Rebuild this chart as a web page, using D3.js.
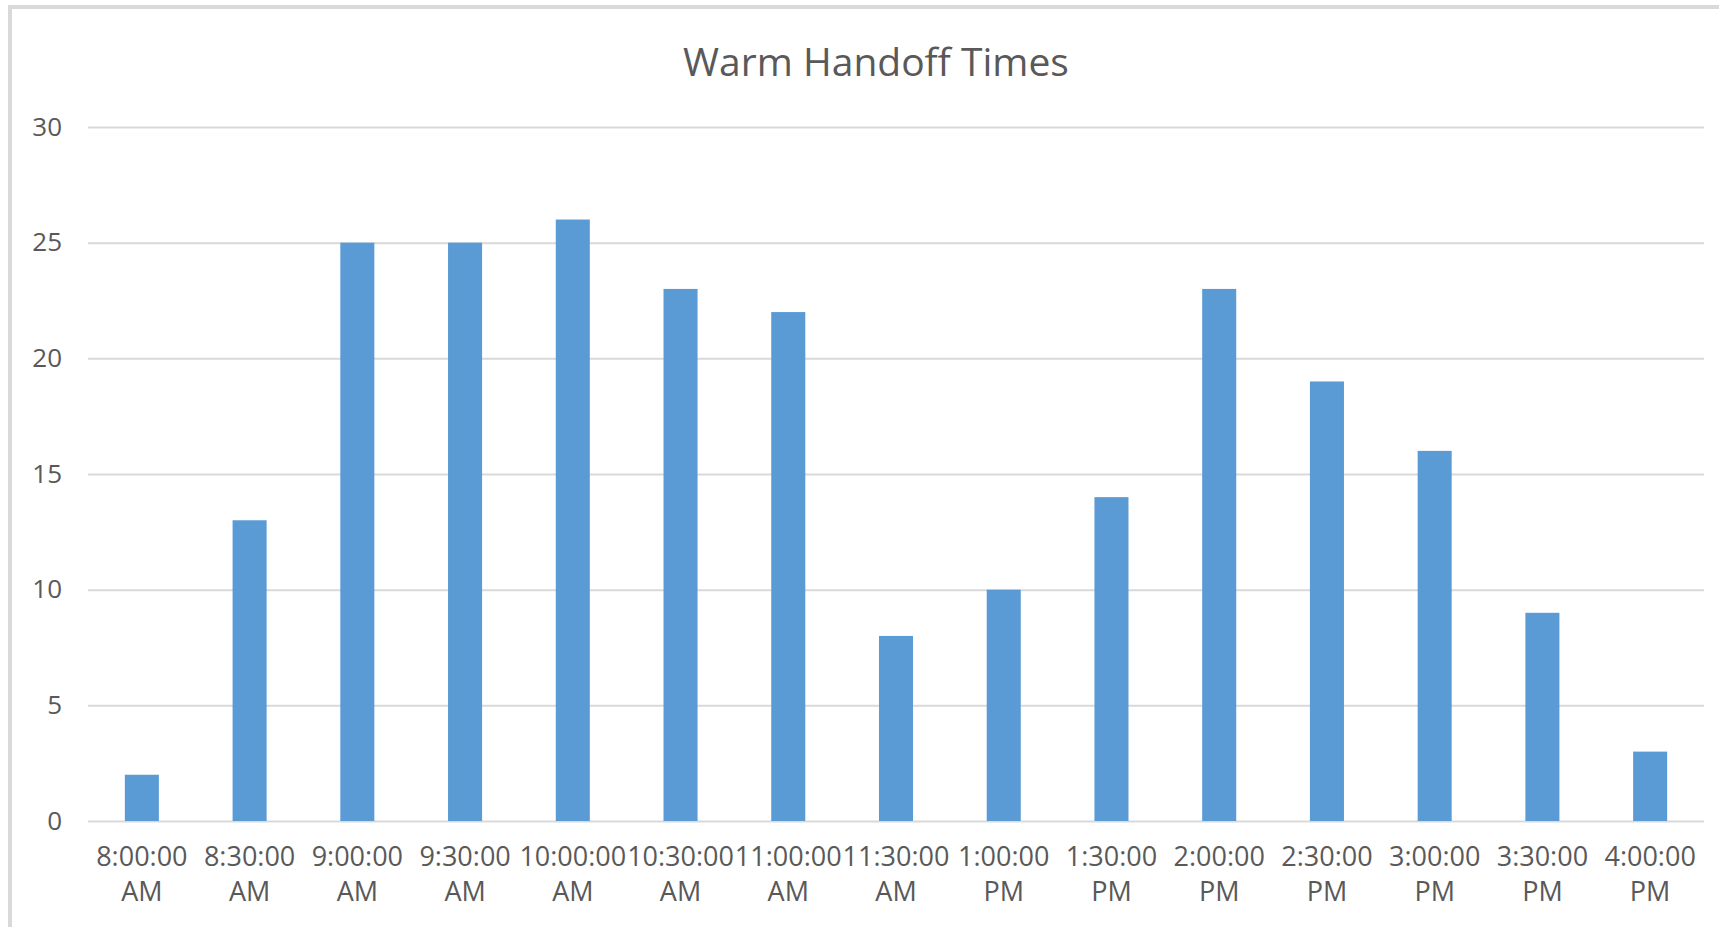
<!DOCTYPE html>
<html>
<head>
<meta charset="utf-8">
<script src="https://cdn.jsdelivr.net/npm/d3@7"></script>
<style>
	body { margin: 0; background: #fff; }
	svg { display: block; font-family: 'Open Sans', sans-serif; }
	.axis text { fill: #595959; }
</style>
</head>
<body>
<svg id="chart" width="1719" height="927"></svg>
<script>
var times = ['8:00:00 AM', '8:30:00 AM', '9:00:00 AM', '9:30:00 AM', '10:00:00 AM',
	'10:30:00 AM', '11:00:00 AM', '11:30:00 AM', '1:00:00 PM', '1:30:00 PM',
	'2:00:00 PM', '2:30:00 PM', '3:00:00 PM', '3:30:00 PM', '4:00:00 PM'];
var counts = [2, 13, 25, 25, 26, 23, 22, 8, 10, 14, 23, 19, 16, 9, 3];
var yTicks = [0, 5, 10, 15, 20, 25, 30];

var svg = d3.select('#chart');
var plotLeft = 88, plotRight = 1704, plotTop = 127, plotBottom = 821;

// chart area border (only top and left edges show in the frame)
svg.append('rect')
	.attr('x', 10)
	.attr('y', 7)
	.attr('width', 1800)
	.attr('height', 1000)
	.attr('fill', 'none')
	.attr('stroke', '#d9d9d9')
	.attr('stroke-width', 4);

svg.append('text')
	.attr('x', 876)
	.attr('y', 76)
	.attr('text-anchor', 'middle')
	.attr('fill', '#595959')
	.style('font-size', '39px')
	.text('Warm Handoff Times');

var x = d3.scaleBand()
	.domain(times)
	.range([plotLeft, plotRight]);

var y = d3.scaleLinear()
	.domain([0, 30])
	.range([plotBottom, plotTop]);

var yAxis = svg.append('g')
	.attr('class', 'axis')
	.attr('transform', 'translate(' + plotLeft + ',0)')
	.call(d3.axisLeft(y)
		.tickValues(yTicks)
		.tickSize(-(plotRight - plotLeft))
		.tickPadding(26));
yAxis.attr('font-family', null).attr('font-size', null);
yAxis.select('.domain').remove();
yAxis.selectAll('line')
	.attr('stroke', '#d9d9d9')
	.attr('stroke-width', 2);
yAxis.selectAll('text')
	.style('font-size', '26px');

var barWidth = x.bandwidth() * 0.316;

svg.selectAll('.bar')
	.data(counts)
	.enter().append('rect')
	.attr('class', 'bar')
	.attr('x', function(d, i) { return x(times[i]) + (x.bandwidth() - barWidth) / 2; })
	.attr('y', function(d) { return y(d); })
	.attr('width', barWidth)
	.attr('height', function(d) { return y(0) - y(d); })
	.attr('fill', '#5b9bd5');

var xAxis = svg.append('g')
	.attr('class', 'axis')
	.attr('transform', 'translate(0,' + plotBottom + ')')
	.call(d3.axisBottom(x).tickSize(0).tickPadding(0));
xAxis.attr('font-family', null).attr('font-size', null);
xAxis.select('.domain').remove();
xAxis.selectAll('text').each(function(d) {
	var parts = d.split(' ');
	var t = d3.select(this).text(null)
		.attr('dy', null)
		.attr('y', 0)
		.style('font-size', '27px');
	t.append('tspan').attr('x', 0).attr('y', 45).text(parts[0]);
	t.append('tspan').attr('x', 0).attr('y', 80).text(parts[1]);
});
</script>
</body>
</html>
